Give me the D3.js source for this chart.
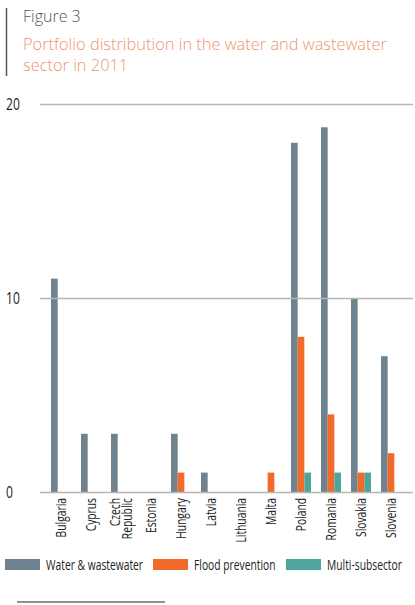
<!DOCTYPE html>
<html lang="en">
<head>
    <meta charset="utf-8">
    <title>Figure 3</title>
    <style>
        body { margin: 0; background: #fff; }
        .title { font: 300 16px "Open Sans", sans-serif; fill: #555; }
        .subtitle { font: 300 16.4px "Open Sans", sans-serif; fill: #ef9470; }
        .ylab, .cat, .legend text {
            font-family: "Open Sans", sans-serif;
            fill: #222;
        }
        .ylab { font-size: 15.5px; }
        .cat { font-size: 14.5px; }
        .legend text { font-size: 14.5px; }
    </style>
</head>
<body>
<script src="https://cdn.jsdelivr.net/npm/d3@7"></script>
<script>

    var countries = ["Bulgaria", "Cyprus", "Czech Republic", "Estonia", "Hungary", "Latvia",
                     "Lithuania", "Malta", "Poland", "Romania", "Slovakia", "Slovenia"];
    var seriesNames = ["Water & wastewater", "Flood prevention", "Multi-subsector"];
    var water = [11, 3, 3, 0, 3, 1, 0, 0, 18, 18.8, 10, 7];
    var flood = [0, 0, 0, 0, 1, 0, 0, 1, 8, 4, 1, 2];
    var multi = [0, 0, 0, 0, 0, 0, 0, 0, 1, 1, 1, 0];
    var yTicks = [0, 10, 20];
    var colours = ["#6f828d", "#f26a2a", "#4fa59c"];

    var width = 415, height = 605;
    var squeeze = 0.71;   // fake a condensed face
    var svg = d3.select("body").append("svg")
        .attr("width", width)
        .attr("height", height);

    // ************** Heading *****************
    svg.append("line")
        .attr("x1", 6.5).attr("x2", 6.5)
        .attr("y1", 8).attr("y2", 76)
        .attr("stroke", "#555").attr("stroke-width", 1.5);
    svg.append("text").attr("class", "title")
        .attr("x", 23).attr("y", 22).text("Figure 3");
    svg.append("text").attr("class", "subtitle")
        .attr("x", 23).attr("y", 50).text("Portfolio distribution in the water and wastewater");
    svg.append("text").attr("class", "subtitle")
        .attr("x", 23).attr("y", 71).text("sector in 2011");

    // ************** Scales *****************
    var y = d3.scaleLinear().domain([0, 20]).range([492, 104]);
    var x0 = d3.scaleBand().domain(countries).range([46, 406]).paddingInner(0.333).paddingOuter(0.167);
    var x1 = d3.scaleBand().domain(seriesNames).range([0, x0.bandwidth()]);

    var values = countries.map(function(c, i) {
        return [water[i], flood[i], multi[i]];
    });

    // gridlines
    var axis = svg.append("g")
        .attr("transform", "translate(40,0)")
        .call(d3.axisLeft(y).tickValues(yTicks).tickSize(-373).tickFormat(""));
    axis.select(".domain").remove();
    axis.selectAll(".tick line").attr("stroke", "#b5b5b5").attr("stroke-width", 1.5);

    // tick labels
    svg.selectAll("text.ylab")
        .data(yTicks)
        .enter().append("text")
        .attr("class", "ylab")
        .attr("transform", function(d) { return "translate(6," + (y(d) + 5.5) + ") scale(0.78,1)"; })
        .text(function(d) { return d; });

    // ************** Bars *****************
    var groups = svg.selectAll("g.group")
        .data(values)
        .enter().append("g")
        .attr("class", "group")
        .attr("transform", function(d, i) { return "translate(" + x0(countries[i]) + ",0)"; });

    groups.selectAll("rect")
        .data(function(d) { return d.map(function(v, j) { return {s: seriesNames[j], v: v, j: j}; }); })
        .enter().append("rect")
        .filter(function(d) { return d.v > 0; })
        .attr("x", function(d) { return x1(d.s); })
        .attr("width", x1.bandwidth())
        .attr("y", function(d) { return y(d.v); })
        .attr("height", function(d) { return y(0) - y(d.v); })
        .attr("fill", function(d) { return colours[d.j]; });

    // bring the zero line above the bars
    axis.raise();
    axis.selectAll(".tick").filter(function(d) { return d !== 0; }).lower();

    // ************** Category labels *****************
    countries.forEach(function(c) {
        var cx = x0(c) + x0.bandwidth() / 2;
        var lines = c === "Czech Republic" ? ["Czech", "Republic"] : [c];
        var t = svg.append("text").attr("class", "cat")
            .attr("transform", "translate(" + cx + ",498) rotate(-90) scale(" + squeeze + ",1)")
            .attr("text-anchor", "end");
        lines.forEach(function(l, k) {
            t.append("tspan")
                .attr("x", 0)
                .attr("y", (k - (lines.length - 1) / 2) * 12.5 + 5)
                .text(l);
        });
    });

    // ************** Legend *****************
    var legendX = [5, 153, 286];
    var legend = svg.append("g").attr("class", "legend");
    seriesNames.forEach(function(s, j) {
        legend.append("rect")
            .attr("x", legendX[j]).attr("y", 559)
            .attr("width", 35).attr("height", 11)
            .attr("fill", colours[j]);
        legend.append("text")
            .attr("transform", "translate(" + (legendX[j] + 41) + ",570) scale(" + squeeze + ",1)")
            .text(s);
    });

    // footnote rule
    svg.append("line")
        .attr("x1", 17).attr("x2", 165)
        .attr("y1", 602).attr("y2", 602)
        .attr("stroke", "#222").attr("stroke-width", 1);

</script>
</body>
</html>
